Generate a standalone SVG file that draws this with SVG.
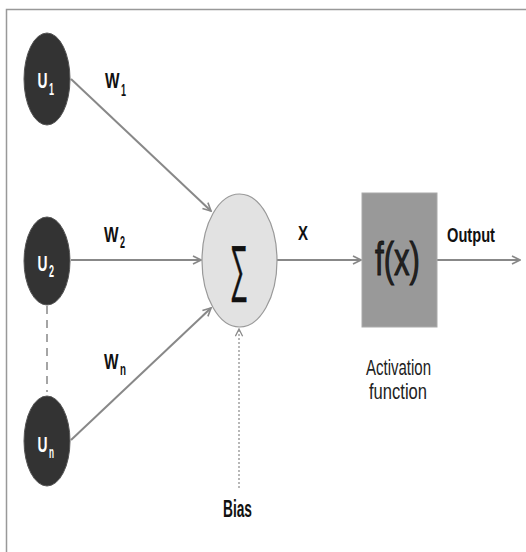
<svg xmlns="http://www.w3.org/2000/svg" width="526" height="552" viewBox="0 0 526 552">
<defs>
<marker id="arr" viewBox="0 0 10 10" refX="9" refY="5" markerWidth="10" markerHeight="10" markerUnits="userSpaceOnUse" orient="auto">
<path d="M1,1 L9,5 L1,9" fill="none" stroke="#888" stroke-width="1.6"/>
</marker>
<marker id="arrB" viewBox="0 0 10 10" refX="9" refY="5" markerWidth="9" markerHeight="9" markerUnits="userSpaceOnUse" orient="auto">
<path d="M1,1 L9,5 L1,9" fill="none" stroke="#888" stroke-width="1.4"/>
</marker>
</defs>
<style>
.in{fill:#333;stroke:#555;stroke-width:1}
.lab{font-family:"Liberation Sans",Arial,sans-serif;font-weight:bold;fill:#111}
.ul{font-family:"Liberation Sans",Arial,sans-serif;font-weight:bold;fill:#fff}
.con{stroke:#888;stroke-width:2;fill:none}
.norm{font-family:"Liberation Sans",Arial,sans-serif;fill:#222}
</style>
<rect width="526" height="552" fill="#fff"/>
<path d="M6.5,552 V9.5 H526" fill="none" stroke="#999" stroke-width="1.5"/>
<g id="connectors">
<line class="con" x1="71" y1="79" x2="211" y2="211" marker-end="url(#arr)"/>
<line class="con" x1="71" y1="260" x2="201" y2="260" marker-end="url(#arr)"/>
<line class="con" x1="71" y1="440" x2="211" y2="308" marker-end="url(#arr)"/>
<line class="con" x1="277" y1="260" x2="361" y2="260" marker-end="url(#arr)"/>
<line class="con" x1="437" y1="260" x2="520" y2="260" marker-end="url(#arr)"/>
<line x1="239" y1="488" x2="239" y2="329" stroke="#888" stroke-width="1.2" stroke-dasharray="2,2" marker-end="url(#arrB)"/>
<line x1="47" y1="306" x2="47" y2="392" stroke="#888" stroke-width="1.5" stroke-dasharray="8,6"/>
</g>
<g id="u1">
<ellipse class="in" cx="47" cy="79" rx="23" ry="46"/>
<text class="ul" x="37.5" y="88" font-size="22" textLength="10" lengthAdjust="spacingAndGlyphs">U</text>
<text class="ul" x="49" y="95" font-size="17" textLength="5" lengthAdjust="spacingAndGlyphs">1</text>
</g>
<g id="u2">
<ellipse class="in" cx="47" cy="261" rx="23" ry="44"/>
<text class="ul" x="37.5" y="271" font-size="22" textLength="10" lengthAdjust="spacingAndGlyphs">U</text>
<text class="ul" x="49" y="277" font-size="17" textLength="5" lengthAdjust="spacingAndGlyphs">2</text>
</g>
<g id="un">
<ellipse class="in" cx="47" cy="441" rx="23" ry="45"/>
<text class="ul" x="37.5" y="452" font-size="22" textLength="10" lengthAdjust="spacingAndGlyphs">U</text>
<text class="ul" x="49" y="458" font-size="17" textLength="5" lengthAdjust="spacingAndGlyphs">n</text>
</g>
<g id="w-labels">
<text class="lab" x="105" y="88" font-size="22" textLength="14.5" lengthAdjust="spacingAndGlyphs">W</text>
<text class="lab" x="121" y="96" font-size="16" textLength="5" lengthAdjust="spacingAndGlyphs">1</text>
<text class="lab" x="104" y="242" font-size="22" textLength="14.5" lengthAdjust="spacingAndGlyphs">W</text>
<text class="lab" x="120" y="248" font-size="16" textLength="5" lengthAdjust="spacingAndGlyphs">2</text>
<text class="lab" x="104" y="369" font-size="22" textLength="14.5" lengthAdjust="spacingAndGlyphs">W</text>
<text class="lab" x="120" y="375" font-size="16" textLength="6" lengthAdjust="spacingAndGlyphs">n</text>
</g>
<g id="sum">
<ellipse cx="239.5" cy="260.5" rx="37.5" ry="66.5" fill="#e2e2e2" stroke="#999" stroke-width="1.2"/>
<text x="230" y="289" font-size="62" font-family="Liberation Sans,DejaVu Sans,sans-serif" fill="#111" stroke="#111" stroke-width="0.6" textLength="18" lengthAdjust="spacingAndGlyphs">∑</text>
</g>
<text class="lab" x="298" y="240" font-size="21" textLength="10" lengthAdjust="spacingAndGlyphs">X</text>
<g id="activation">
<rect x="362" y="193" width="75" height="134" fill="#999" stroke="#aaa" stroke-width="1"/>
<text class="norm" x="375" y="275" font-size="46" fill="#111" stroke="#111" stroke-width="0.9" textLength="45" lengthAdjust="spacingAndGlyphs">f(x)</text>
<text class="norm" x="366" y="375" font-size="22" textLength="65" lengthAdjust="spacingAndGlyphs">Activation</text>
<text class="norm" x="369" y="399" font-size="22" textLength="58" lengthAdjust="spacingAndGlyphs">function</text>
</g>
<text class="lab" x="447" y="242" font-size="20" textLength="48" lengthAdjust="spacingAndGlyphs">Output</text>
<text class="lab" x="223" y="517" font-size="24" textLength="29" lengthAdjust="spacingAndGlyphs">Bias</text>
</svg>
